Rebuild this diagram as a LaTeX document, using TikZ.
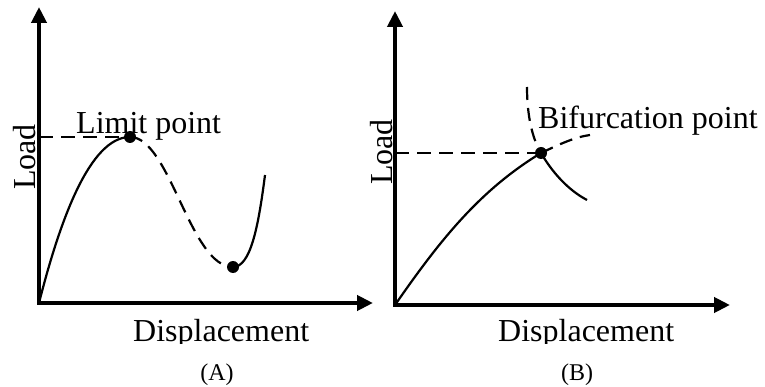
\documentclass[tikz,border=0pt]{standalone}
\usepackage{fontspec}
\setmainfont{Liberation Serif}
\usetikzlibrary{arrows.meta}
\begin{document}
\begin{tikzpicture}[x=1pt,y=-1pt,
  axis/.style={line width=4pt,line join=miter,{Triangle[length=16pt,width=15pt]}-{Triangle[length=16pt,width=15pt]}},
  curve/.style={line width=2.2pt},
  dashcurve/.style={line width=2.2pt,dash pattern=on 13pt off 8pt},
  hdash/.style={line width=2.2pt,dash pattern=on 14pt off 8pt},
  lab/.style={inner sep=0pt,font=\fontsize{32}{38}\selectfont},
  captxt/.style={inner sep=0pt,font=\fontsize{24}{28}\selectfont},
  dot/.style={fill=black}]
\useasboundingbox (0,0) rectangle (765,387);

% ---------- Panel A ----------
\coordinate (oA) at (39,303);
\coordinate (limA) at (130,137);
\coordinate (minA) at (233,267);
\coordinate (endA) at (265,175);
\draw[axis] (39,7) -- (oA) -- (373,303);
\draw[hdash] (39,137) -- (limA);
\draw[curve] (oA) .. controls (60,220) and (90,137) .. (limA);
\draw[dashcurve] (limA) .. controls (170,137) and (190,267) .. (minA);
\draw[curve] (minA) .. controls (250,267) and (258,230) .. (endA);
\fill[dot] (limA) circle (6pt);
\fill[dot] (minA) circle (6pt);
\node[lab,anchor=base west] (limtxt) at (76,134) {Limit point};
\node[lab,rotate=90,anchor=base] (loadA) at (35,157) {Load};
\begin{scope}
  \clip (100,300) rectangle (360,343.5);
  \node[lab,anchor=base west] (dispA) at (133,341) {Displacement};
\end{scope}
\node[captxt,anchor=base] (capA) at (217,380) {(A)};

% ---------- Panel B ----------
\coordinate (oB) at (395,305);
\coordinate (bif) at (541,153);
\coordinate (topB) at (527,87);
\coordinate (lowB) at (587,200);
\coordinate (rightB) at (590,135);
\draw[axis] (395,11) -- (oB) -- (730,305);
\draw[hdash] (395,153) -- (bif);
\draw[curve] (oB) .. controls (440,240) and (480,190) .. (bif);
\draw[dashcurve] (topB) .. controls (527,115) and (532,138) .. (bif);
\draw[curve] (bif) .. controls (552,172) and (568,190) .. (lowB);
\draw[dashcurve] (bif) .. controls (560,144) and (575,137) .. (rightB);
\fill[dot] (bif) circle (6pt);
\node[lab,anchor=base west] (biftxt) at (538,129) {Bifurcation point};
\node[lab,rotate=90,anchor=base] (loadB) at (392,152) {Load};
\begin{scope}
  \clip (460,300) rectangle (720,343.5);
  \node[lab,anchor=base west] (dispB) at (498,341) {Displacement};
\end{scope}
\node[captxt,anchor=base] (capB) at (577,380) {(B)};
\end{tikzpicture}
\end{document}
